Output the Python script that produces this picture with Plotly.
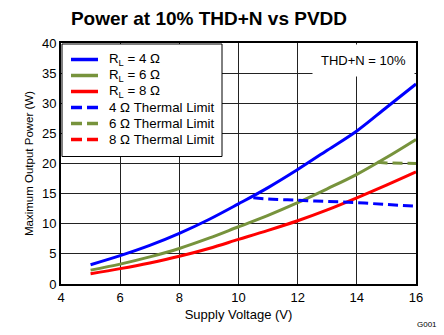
import plotly.graph_objects as go

volts = [5, 6, 7, 8, 9, 10, 11, 12, 13, 14, 15, 16]
p_4ohm = [3.2, 4.7, 6.4, 8.4, 10.7, 13.3, 16.0, 19.0, 22.2, 25.4, 29.3, 33.2]
p_6ohm = [2.3, 3.3, 4.5, 5.9, 7.6, 9.5, 11.4, 13.5, 15.8, 18.2, 21.0, 24.0]
p_8ohm = [1.7, 2.55, 3.5, 4.6, 5.9, 7.4, 8.9, 10.5, 12.3, 14.3, 16.4, 18.6]

th4_x = [10.5, 11, 12, 13, 14, 15, 16]
th4_y = [14.3, 14.1, 13.9, 13.7, 13.5, 13.2, 12.9]
th6_x = [14.7, 15, 16]
th6_y = [20.2, 20.1, 20.0]
# 8 ohm thermal limit lies beyond the plotted voltage range
th8_x = [17.0, 18.0]
th8_y = [20.0, 20.0]

names = ["R<sub>L</sub> = 4 Ω", "R<sub>L</sub> = 6 Ω", "R<sub>L</sub> = 8 Ω",
         "4 Ω Thermal Limit", "6 Ω Thermal Limit", "8 Ω Thermal Limit"]

BLUE = "#0000FF"
GREEN = "#77933C"
RED = "#FF0000"
FONT = "Arial, Liberation Sans"
DASH = "10px,5px"

W, H = 444, 335
ML, MR, MT, MB = 61, 28, 43, 51
PW, PH = W - ML - MR, H - MT - MB

fig = go.Figure()
series = [
    (volts, p_4ohm, BLUE, "solid", "spline"),
    (volts, p_6ohm, GREEN, "solid", "spline"),
    (volts, p_8ohm, RED, "solid", "spline"),
    (th4_x, th4_y, BLUE, DASH, "spline"),
    (th6_x, th6_y, GREEN, DASH, "linear"),
    (th8_x, th8_y, RED, DASH, "linear"),
]
for (xs, ys, c, d, sh), nm in zip(series, names):
    fig.add_trace(go.Scatter(x=xs, y=ys, mode="lines", name=nm, showlegend=False,
                             line=dict(color=c, width=3, dash=d, shape=sh)))

# manual legend (pixel layout converted to paper coords)
def px(x):
    return (x - ML) / PW


def py(y):
    return 1 - (y - MT) / PH


fig.add_shape(type="rect", xref="paper", yref="paper", layer="above",
              x0=px(62), x1=px(222), y0=py(44), y1=py(156.5),
              fillcolor="white", line=dict(color="black", width=1))
item_y = [59.5, 75.5, 91.5, 107.5, 123.5, 139.5]
for (xs, ys, c, d, sh), nm, yy in zip(series, names, item_y):
    fig.add_shape(type="line", xref="paper", yref="paper", layer="above",
                  x0=px(71), x1=px(98), y0=py(yy), y1=py(yy),
                  line=dict(color=c, width=3.5, dash="solid" if d == "solid" else "11px,5px"))
    fig.add_annotation(x=px(108), y=py(yy), xref="paper", yref="paper",
                       xanchor="left", yanchor="middle", text=nm, showarrow=False,
                       font=dict(family=FONT, size=13.3, color="black"), borderpad=0)

axis_common = dict(showgrid=True, gridcolor="#222222", gridwidth=1,
                   showline=True, linecolor="black", linewidth=2, mirror=True,
                   zeroline=False, ticks="", tickfont=dict(family=FONT, size=13, color="black"))

fig.update_xaxes(range=[4, 16], dtick=2, **axis_common,
                 title=dict(text="Supply Voltage (V)", font=dict(family=FONT, size=13, color="black"), standoff=6))
fig.update_yaxes(range=[0, 40], dtick=5, **axis_common,
                 title=dict(text="Maximum Output Power (W)", font=dict(family=FONT, size=11.5, color="black"), standoff=6))

fig.add_annotation(x=1, y=1, xref="paper", yref="paper", xanchor="right", yanchor="top",
                   text="THD+N = 10%", showarrow=False, bgcolor="white",
                   font=dict(family=FONT, size=13, color="black"),
                   borderpad=8, xshift=-1, yshift=-1)
fig.add_annotation(x=1.03, y=-0.14, xref="paper", yref="paper", xanchor="center", yanchor="top",
                   text="G001", showarrow=False,
                   font=dict(family=FONT, size=8, color="black"))

fig.update_layout(
    width=W, height=H,
    margin=dict(l=ML, r=MR, t=MT, b=MB),
    paper_bgcolor="white", plot_bgcolor="white",
    title=dict(text="<b>Power at 10% THD+N vs PVDD</b>", x=209 / 444, xanchor="center",
               y=1 - 18 / 335, yanchor="middle",
               font=dict(family=FONT, size=19, color="black")),
    showlegend=False,
)

fig.write_html("out.html")
